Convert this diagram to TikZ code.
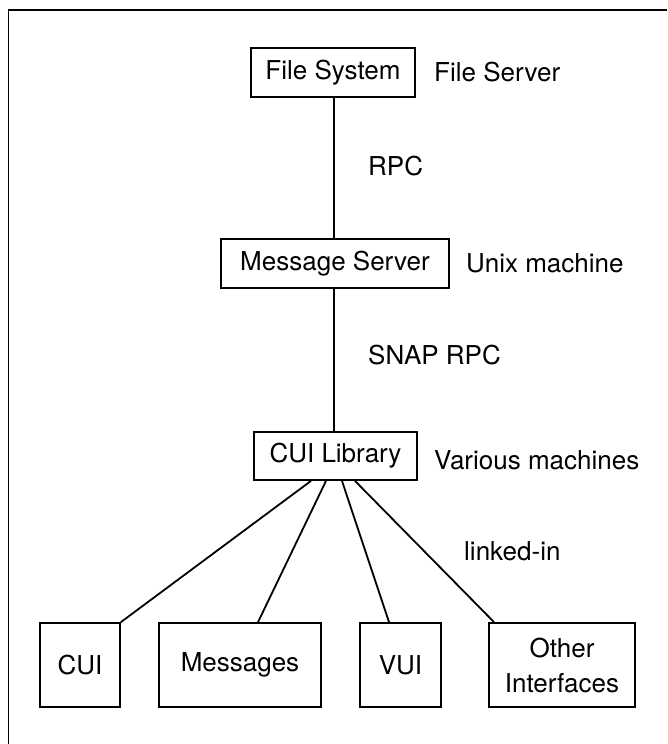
\documentclass[tikz,border=0pt]{standalone}
\usepackage{fontspec}
\setmainfont{TeX Gyre Heros}
\usetikzlibrary{calc}
\begin{document}
\begin{tikzpicture}[x=1pt,y=-1pt,
  box/.style={draw,line width=1.8pt,inner sep=0pt,align=center,font=\fontsize{26}{35}\selectfont},
  lbl/.style={anchor=west,inner sep=0pt,font=\fontsize{26}{31}\selectfont},
  conn/.style={line width=1.8pt},
  frame/.style={line width=1.4pt}]
\useasboundingbox (0,0) rectangle (667,744);
\coordinate (ftr) at (667,10);
\coordinate (ftl) at (8.5,10);
\coordinate (fbl) at (8.5,744);
\draw[frame] (ftr) -- (ftl) -- (fbl);

\node[box,minimum width=164pt,minimum height=49pt] (fs) at (333,72.5) {File System};
\node[box,minimum width=228pt,minimum height=49pt] (ms) at (335,263.5) {Message Server};
\node[box,minimum width=163pt,minimum height=48pt] (lib) at (335.5,456) {CUI Library};

\node[box,minimum width=80pt,minimum height=84pt] (cui) at (80,665) {CUI};
\node[box,minimum width=162pt,minimum height=84pt] (msg) at (240,665) {Messages};
\node[box,minimum width=81pt,minimum height=84pt] (vui) at (400.5,665) {VUI};
\node[box,minimum width=146pt,minimum height=84pt] (oth) at (562,665) {Other\\Interfaces};

\node[lbl] (l1) at (434,72) {File Server};
\node[lbl] (l2) at (368,166) {RPC};
\node[lbl] (l3) at (466,263) {Unix machine};
\node[lbl] (l4) at (368,355) {SNAP RPC};
\node[lbl] (l5) at (434,460) {Various machines};
\node[lbl] (l6) at (464,551) {linked-in};

\draw[conn] ([xshift=1pt]fs.south) -- ([xshift=-1pt]ms.north);
\draw[conn] ([xshift=-1pt]ms.south) -- ([xshift=-1.5pt]lib.north);
\draw[conn] ([xshift=-24.5pt]lib.south) -- (cui.north east);
\draw[conn] ([xshift=-9.5pt]lib.south) -- ([xshift=18pt]msg.north);
\draw[conn] ([xshift=6.5pt]lib.south) -- ([xshift=-11.5pt]vui.north);
\draw[conn] ([xshift=19.5pt]lib.south) -- ([xshift=-68pt]oth.north);
\end{tikzpicture}
\end{document}
